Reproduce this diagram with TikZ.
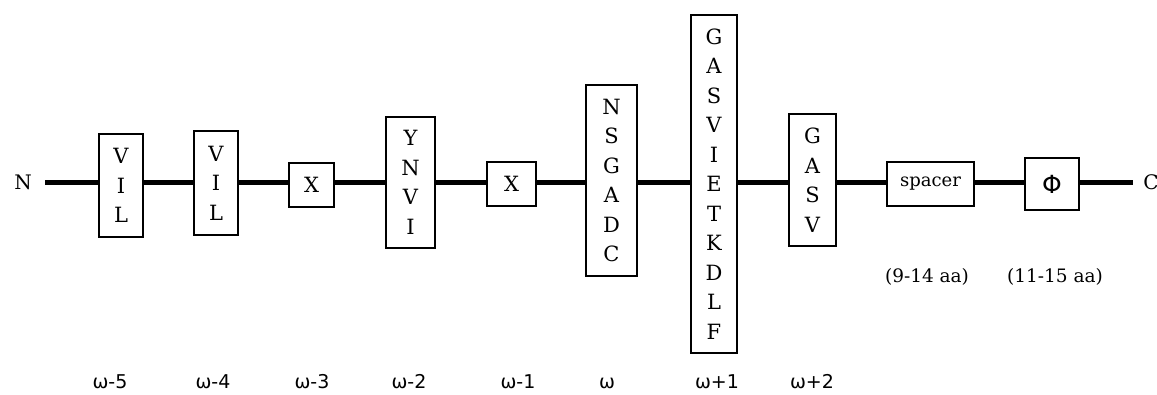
\documentclass[tikz,border=0pt]{standalone}
\usepackage{fontspec}
\setmainfont{DejaVu Serif}
\newfontfamily\lblfont{DejaVu Sans}
\begin{document}
\begin{tikzpicture}[x=1pt,y=-1pt,
  box/.style={draw, line width=1.1pt, inner sep=0pt, align=center, font=\fontsize{21}{29.5}\selectfont},
  chain/.style={line width=4.4pt},
  wlab/.style={font=\lblfont\fontsize{19}{22}\selectfont, inner sep=0pt, anchor=base},
  aalab/.style={font=\fontsize{18.5}{22}\selectfont, inner sep=0pt},
  endlab/.style={font=\fontsize{20}{22}\selectfont, inner sep=0pt}]
\useasboundingbox (0,0) rectangle (1157,394);
\node[box, minimum width=44pt, minimum height=103pt] (b1) at (121,185.5) {V\\I\\L};
\node[box, minimum width=44pt, minimum height=104pt] (b2) at (216,183) {V\\I\\L};
\node[box, minimum width=45pt, minimum height=44pt] (b3) at (311.5,185) {X};
\node[box, minimum width=49pt, minimum height=131pt] (b4) at (410.5,182.5) {Y\\N\\V\\I};
\node[box, minimum width=49pt, minimum height=44pt] (b5) at (511.5,184) {X};
\node[box, minimum width=51pt, minimum height=191pt] (b6) at (611.5,180.5) {N\\S\\G\\A\\D\\C};
\node[box, minimum width=46pt, minimum height=338pt] (b7) at (714,184) {G\\A\\S\\V\\I\\E\\T\\K\\D\\L\\F};
\node[box, minimum width=47pt, minimum height=132pt] (b8) at (812.5,180) {G\\A\\S\\V};
\node[box, minimum width=87pt, minimum height=44pt, font=\fontsize{18}{20}\selectfont] (b9) at (930.5,184) {spacer};
\node[box, minimum width=54pt, minimum height=52pt, font=\lblfont\fontsize{25}{26}\selectfont] (b10) at (1052,184) {Φ};
\node[endlab] (N) at (23,182) {N};
\node[endlab] (C) at (1151,182) {C};
\coordinate (ls) at (45,182.5);
\coordinate (le) at (1133,182.5);
\draw[chain] (ls) -- (b1.west |- ls);
\draw[chain] (b1.east |- ls) -- (b2.west |- ls);
\draw[chain] (b2.east |- ls) -- (b3.west |- ls);
\draw[chain] (b3.east |- ls) -- (b4.west |- ls);
\draw[chain] (b4.east |- ls) -- (b5.west |- ls);
\draw[chain] (b5.east |- ls) -- (b6.west |- ls);
\draw[chain] (b6.east |- ls) -- (b7.west |- ls);
\draw[chain] (b7.east |- ls) -- (b8.west |- ls);
\draw[chain] (b8.east |- ls) -- (b9.west |- ls);
\draw[chain] (b9.east |- ls) -- (b10.west |- ls);
\draw[chain] (b10.east |- ls) -- (le);
\node[aalab] (a9) at (927,277) {(9-14 aa)};
\node[aalab] (a10) at (1055,277) {(11-15 aa)};
\node[wlab] (w1) at (110,388) {ω-5};
\node[wlab] (w2) at (213,388) {ω-4};
\node[wlab] (w3) at (312,388) {ω-3};
\node[wlab] (w4) at (409,388) {ω-2};
\node[wlab] (w5) at (518,388) {ω-1};
\node[wlab] (w6) at (607,388) {ω};
\node[wlab] (w7) at (717,388) {ω+1};
\node[wlab] (w8) at (812,388) {ω+2};
\end{tikzpicture}
\end{document}
